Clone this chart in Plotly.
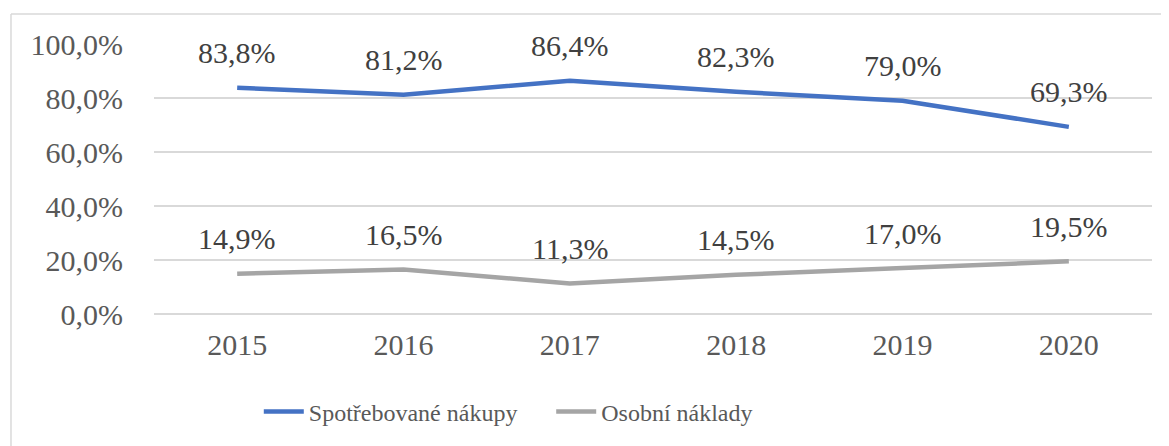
import plotly.graph_objects as go

# chart data
years = [2015, 2016, 2017, 2018, 2019, 2020]
spotrebovane_nakupy = [83.8, 81.2, 86.4, 82.3, 79.0, 69.3]
osobni_naklady = [14.9, 16.5, 11.3, 14.5, 17.0, 19.5]
y_ticks = [0, 20, 40, 60, 80, 100]
y_tick_labels = ["0,0%", "20,0%", "40,0%", "60,0%", "80,0%", "100,0%"]

# name, values, colour, legend id, legend x (paper)
series = [
    ("Spotřebované nákupy", spotrebovane_nakupy, "#4472C4", "legend", 0.105),
    ("Osobní náklady", osobni_naklady, "#A5A5A5", "legend2", 0.398),
]

FONT = "Liberation Serif"

fig = go.Figure()
annotations = []
legends = {}
for name, values, color, leg, leg_x in series:
    fig.add_trace(
        go.Scatter(
            x=years,
            y=values,
            name=name,
            mode="lines",
            line=dict(color=color, width=4.5),
            legend=leg,
        )
    )
    legends[leg] = dict(
        orientation="h",
        x=leg_x, xanchor="left",
        y=-0.363, yanchor="middle",
        font=dict(family=FONT, size=24, color="#595959"),
        itemwidth=40,
        bgcolor="rgba(0,0,0,0)",
    )
    # data labels above each point, Czech decimal comma
    for x, v in zip(years, values):
        annotations.append(dict(
            x=x, y=v, xref="x", yref="y",
            text=f"{v:.1f}%".replace(".", ","),
            showarrow=False, yshift=35,
            font=dict(family=FONT, size=30, color="#404040"),
        ))

# the page body has an 8px margin, so the figure is a bit smaller than the window
fig.update_layout(
    width=1161,
    height=438,
    margin=dict(l=146, r=17, t=36, b=132),
    paper_bgcolor="white",
    plot_bgcolor="white",
    font=dict(family=FONT, size=30, color="#595959"),
    annotations=annotations,
    showlegend=True,
    **legends,
    shapes=[
        # chart border (only top and left edges are visible in the crop)
        dict(type="line", xref="paper", yref="paper",
             x0=-0.1433, x1=1.05, y0=1.111, y1=1.111,
             line=dict(color="#D9D9D9", width=1.5)),
        dict(type="line", xref="paper", yref="paper",
             x0=-0.1433, x1=-0.1433, y0=1.111, y1=-0.6,
             line=dict(color="#D9D9D9", width=1.5)),
    ],
)

fig.update_xaxes(
    range=[2014.5, 2020.5],
    tickvals=years,
    ticktext=[str(y) for y in years],
    showgrid=False,
    showline=False,
    zeroline=False,
    ticks="",
    ticklabelstandoff=10,
    tickfont=dict(family=FONT, size=30, color="#595959"),
)
fig.update_yaxes(
    range=[0, 100],
    tickvals=y_ticks,
    ticktext=y_tick_labels,
    showgrid=True,
    gridcolor="#D9D9D9",
    gridwidth=1.5,
    zeroline=True,
    zerolinecolor="#D9D9D9",
    zerolinewidth=1.5,
    showline=False,
    ticks="",
    ticklabelstandoff=30,
    tickfont=dict(family=FONT, size=30, color="#595959"),
)

fig.write_html("out.html")
